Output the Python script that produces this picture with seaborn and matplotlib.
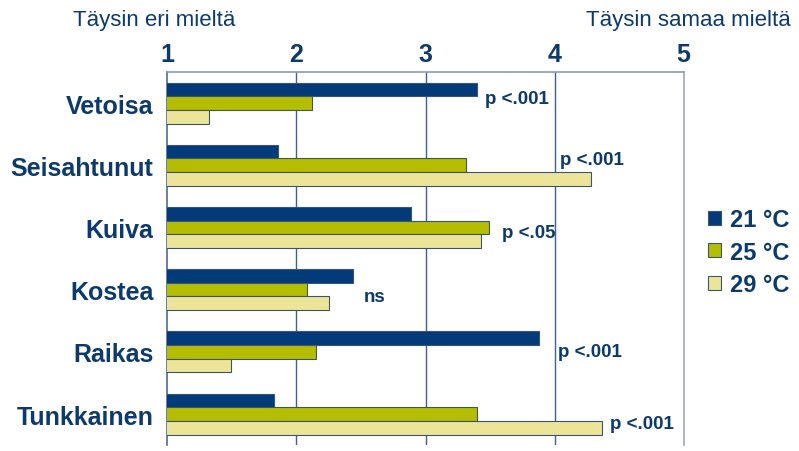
import matplotlib.pyplot as plt
import seaborn as sns
import pandas as pd
from matplotlib.ticker import FixedLocator

kategoriat = ["Vetoisa", "Seisahtunut", "Kuiva", "Kostea", "Raikas", "Tunkkainen"]
lampotilat = ["21 °C", "25 °C", "29 °C"]
arvot_21 = [3.40, 1.86, 2.89, 2.44, 3.88, 1.83]
arvot_25 = [2.12, 3.31, 3.49, 2.08, 2.15, 3.40]
arvot_29 = [1.32, 4.28, 3.43, 2.25, 1.49, 4.37]
p_tekstit = ["p <.001", "p <.001", "p <.05", "ns", "p <.001", "p <.001"]
p_x = [3.46, 4.04, 3.59, 2.52, 4.03, 4.43]
p_y = [-0.08, -0.10, 0.08, 0.11, 0.0, 0.16]

varit = ["#023a7a", "#b4bd00", "#ece597"]
teksti = "#0d3a6e"

df = pd.DataFrame({
    "kategoria": kategoriat * 3,
    "lampotila": [l for l in lampotilat for _ in kategoriat],
    "arvo": arvot_21 + arvot_25 + arvot_29,
})

sns.set_style("white")
plt.rcParams["font.family"] = ["Liberation Sans", "DejaVu Sans"]

fig = plt.figure(figsize=(7.99, 4.52), dpi=100)
ax = fig.add_axes([0.2094, 0.013, 0.6463, 0.8255])

sns.barplot(data=df, y="kategoria", x="arvo", hue="lampotila", order=kategoriat,
            hue_order=lampotilat, palette=varit, saturation=1, width=0.66, orient="h",
            edgecolor="#3d5470", linewidth=0.8, ax=ax, zorder=3)

ax.set_xlim(1, 5)
ax.set_ylim(5.5, -0.5)
ax.xaxis.tick_top()
ax.set_xticks([1, 2, 3, 4, 5])
ax.set_xticklabels(["1", "2", "3", "4", "5"], fontsize=18, fontweight="bold", color=teksti)
ax.tick_params(axis="x", length=0, pad=4)
ax.set_yticks(range(len(kategoriat)))
ax.set_yticklabels(kategoriat, fontsize=18, fontweight="bold", color=teksti)
ax.tick_params(axis="y", which="major", length=0, pad=10)
ax.yaxis.set_minor_locator(FixedLocator([0.5, 1.5, 2.5, 3.5, 4.5]))
ax.tick_params(axis="y", which="minor", length=5, color="#6b7c93", width=1)
ax.set_xlabel("")
ax.set_ylabel("")

for gx in [2, 3, 4]:
    ax.axvline(gx, color="#3f5f95", linewidth=1, zorder=1)

ax.spines["left"].set_color("#4a6a99")
ax.spines["top"].set_color("#8b9bb0")
ax.spines["right"].set_color("#a0a8b4")
ax.spines["bottom"].set_visible(False)
for s in ["left", "top", "right"]:
    ax.spines[s].set_linewidth(1.2)

for i, (t, x, dy) in enumerate(zip(p_tekstit, p_x, p_y)):
    ax.text(x, i + dy, t, fontsize=13.5, fontweight="bold", color=teksti,
            va="center", ha="left")

fig.text(0.091, 0.955, "Täysin eri mieltä", fontsize=16, color=teksti, va="center")
fig.text(0.99, 0.955, "Täysin samaa mieltä", fontsize=16, color=teksti, va="center", ha="right")

leg = ax.legend(loc="center left", bbox_to_anchor=(0.86, 0.44), bbox_transform=fig.transFigure,
                frameon=False, fontsize=17, handlelength=0.55, handleheight=0.55,
                handletextpad=0.35, labelspacing=0.4)
for t in leg.get_texts():
    t.set_color(teksti)
    t.set_fontweight("bold")

fig.savefig("out.png", dpi=100)
